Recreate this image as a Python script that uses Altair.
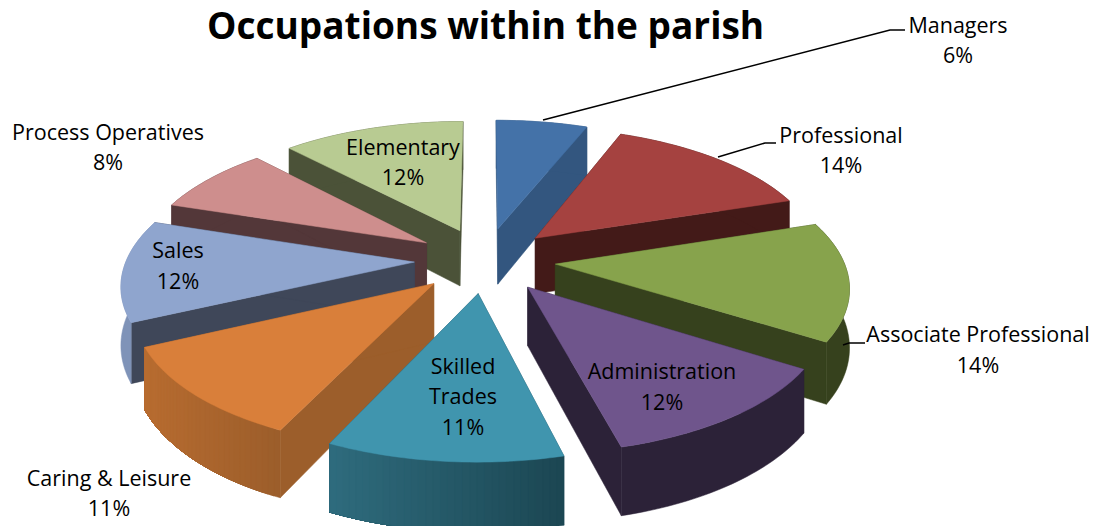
import math
import altair as alt
import pandas as pd

# Values
categories = ["Managers", "Professional", "Associate Professional", "Administration",
              "Skilled Trades", "Caring & Leisure", "Sales", "Process Operatives", "Elementary"]
shares = [6, 14, 14, 12, 11, 11, 12, 8, 12]

# Styles
top_colors = ["#4472A8", "#A54240", "#87A34C", "#6F558C", "#4095AE", "#D97F3A", "#8FA5CE", "#CE8E8D", "#B8CB92"]
wall_colors = ["#33567F", "#431A18", "#36411D", "#2C2238", "#1F4E5C", "#9C5E2B", "#3F4759", "#533739", "#4B5238"]
outer_left = ["#33567F", "#431A18", "#36411D", "#2C2238", "#2F6C7E", "#B86C30", "#7F93B8", "#533739", "#4B5238"]
outer_right = ["#33567F", "#431A18", "#36411D", "#2C2238", "#1C4753", "#9C5E2B", "#7F93B8", "#533739", "#4B5238"]

# Labels (text, x, y in picture pixels)
label_text = ["Managers", "6%", "Professional", "14%", "Associate Professional", "14%",
              "Administration", "12%", "Skilled", "Trades", "11%", "Caring & Leisure", "11%",
              "Sales", "12%", "Process Operatives", "8%", "Elementary", "12%"]
label_x = [958, 958, 841, 841, 978, 978, 662, 662, 463, 463, 463, 109, 109, 178, 178, 108, 108, 403, 403]
label_y = [26.5, 56.5, 136.5, 166.5, 335.5, 366.5, 372.5, 403.5, 367.5, 397.5, 428.5, 479.5, 509.5, 251.5, 282.5, 133.5, 163.5, 148.5, 178.5]

leader_id = ["m", "m", "m", "p", "p", "p", "a", "a", "a"]
leader_x = [543, 890, 905, 718, 765, 776, 843, 849, 865]
leader_y = [120, 30, 30, 157, 143, 143, 345, 343, 343]

# Projection of the tilted pie
W, H = 1082, 518
OX, OY = 8, 8
CX, CY = 485, 260
A, B, P, EXPLODE, DEPTH = 288, 133, 0.146, 0.245, 57


def project(dx, dy, drop=0.0):
    s = 1 / (1 + P * dy)
    return [CX + A * dx * s, CY - B * dy * s + DEPTH * s * drop]


def mix(c1, c2, t):
    a = [int(c1[i:i + 2], 16) for i in (1, 3, 5)]
    b = [int(c2[i:i + 2], 16) for i in (1, 3, 5)]
    return "#%02x%02x%02x" % tuple(round(u + (v - u) * t) for u, v in zip(a, b))


def feature(ring, fill):
    return {"type": "Feature", "properties": {"fill": fill},
            "geometry": {"type": "Polygon", "coordinates": [ring + [ring[0]]]}}


slices = []
cum = 0
for i, share in enumerate(shares):
    a0 = cum / 100 * 2 * math.pi
    a1 = (cum + share) / 100 * 2 * math.pi
    mid = (a0 + a1) / 2
    cum += share
    ox, oy = EXPLODE * math.sin(mid), EXPLODE * math.cos(mid)
    n = max(6, share * 3)
    rim = [(ox + math.sin(a0 + (a1 - a0) * k / n), oy + math.cos(a0 + (a1 - a0) * k / n)) for k in range(n + 1)]
    polys = []
    tip = (ox, oy)
    for end in (rim[0], rim[-1]):
        polys.append(feature([project(*tip), project(*end), project(*end, 1), project(*tip, 1)], wall_colors[i]))
    xs = [project(*p)[0] for p in rim]
    lo, hi = min(xs), max(xs)
    # Each step of the outer wall covers the rest of the wall, so no seams show
    steps = n if outer_left[i] != outer_right[i] else 1
    for k in range(steps):
        j = k * n // steps
        t = (xs[j] - lo) / max(hi - lo, 1)
        rest = rim[j:]
        ring = [project(*p) for p in rest] + [project(*p, 1) for p in reversed(rest)]
        polys.append(feature(ring, mix(outer_left[i], outer_right[i], t)))
    polys.append(feature([project(*tip)] + [project(*p) for p in rim], top_colors[i]))
    slices.append((oy, polys))

features = [f for _, polys in sorted(slices, key=lambda s: -s[0]) for f in polys]

x_scale = alt.Scale(domain=[OX, OX + W], nice=False, zero=False)
y_scale = alt.Scale(domain=[OY + H, OY], nice=False, zero=False)

pie = alt.Chart(alt.Data(values=features)).mark_geoshape(strokeWidth=0.5, opacity=1).encode(
    fill=alt.Fill("properties.fill:N", scale=None),
    stroke=alt.Stroke("properties.fill:N", scale=None),
).project(type="identity", scale=1, translate=[-OX, -OY])

leaders = alt.Chart(pd.DataFrame({"id": leader_id, "x": leader_x, "y": leader_y, "o": range(9)})).mark_line(
    color="#000000", strokeWidth=1.5
).encode(
    x=alt.X("x:Q", scale=x_scale, axis=None),
    y=alt.Y("y:Q", scale=y_scale, axis=None),
    detail="id:N",
    order="o:Q",
)

labels = alt.Chart(pd.DataFrame({"t": label_text, "x": label_x, "y": label_y})).mark_text(
    font="Open Sans", fontSize=21.5, color="#000000", align="center", baseline="middle"
).encode(
    x=alt.X("x:Q", scale=x_scale, axis=None),
    y=alt.Y("y:Q", scale=y_scale, axis=None),
    text="t:N",
)

chart = alt.layer(pie, leaders, labels).properties(
    width=W, height=H, padding=0,
    autosize=alt.AutoSizeParams(type="none"),
    title=alt.TitleParams("Occupations within the parish", font="Open Sans", fontSize=37,
                          fontWeight="bold", color="#000000", anchor="start", frame="group",
                          dx=199, offset=-39),
).configure_view(stroke=None)

chart.save("out.html", embed_options={"renderer": "svg", "actions": False})
